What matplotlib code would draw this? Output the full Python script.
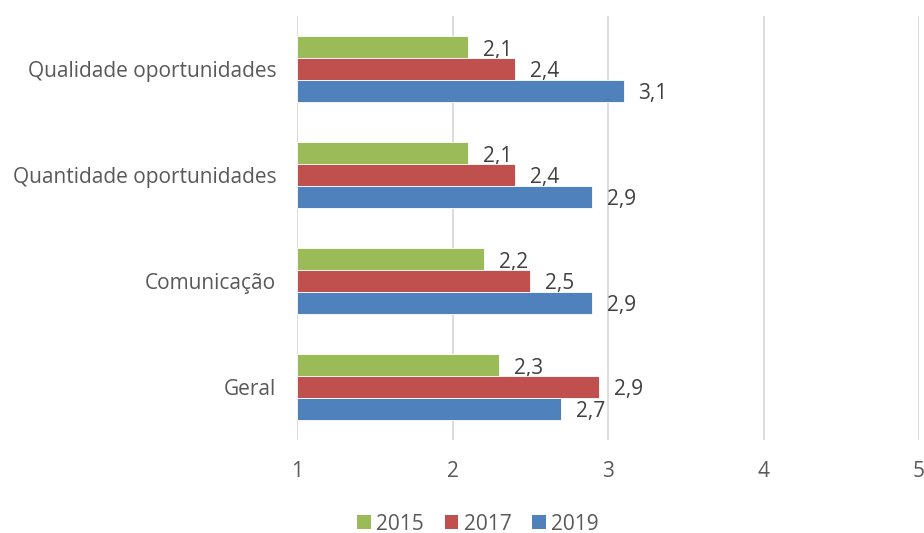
import numpy as np
import matplotlib.pyplot as plt
from matplotlib.patches import Patch

plt.rcParams['font.family'] = ['Open Sans', 'DejaVu Sans']

categories = ['Qualidade oportunidades', 'Quantidade oportunidades',
              'Comunicação', 'Geral']
years = ['2015', '2017', '2019']
v2015 = [2.1, 2.1, 2.2, 2.3]
v2017 = [2.4, 2.4, 2.5, 2.94]
v2019 = [3.1, 2.9, 2.9, 2.7]
colors = ['#9BBB59', '#C0504D', '#4F81BD']

series = [v2015, v2017, v2019]
text_col = '#595959'
fs = 15

fig = plt.figure(figsize=(9.24, 5.33), dpi=100)
ax = fig.add_axes([297 / 924, 1 - 440 / 533, 622 / 924, 424 / 533])

y = np.arange(len(categories))
h = 0.205
for k, (vals, col) in enumerate(zip(series, colors)):
    pos = y + (k - 1) * h
    ax.barh(pos, np.array(vals) - 1, left=1, height=h, color=col,
            edgecolor='white', linewidth=0.6, zorder=3)
    for p, v in zip(pos, vals):
        ax.annotate(f'{v:.1f}'.replace('.', ','), (v, p),
                    xytext=(15, -3), textcoords='offset pixels',
                    ha='left', va='center', fontsize=fs, color='#404040')

ax.set_xlim(1, 5)
ax.set_ylim(len(categories) - 0.5, -0.5)
ax.set_xticks([1, 2, 3, 4, 5])
ax.set_yticks(y)
ax.set_yticklabels(categories)
ax.grid(axis='x', color='#D9D9D9', linewidth=1.3, zorder=0)
for s in ax.spines.values():
    s.set_visible(False)
ax.tick_params(axis='both', length=0, labelsize=fs, colors=text_col)
ax.tick_params(axis='x', pad=15)
ax.tick_params(axis='y', pad=15)

handles = [Patch(facecolor=c, label=l) for c, l in zip(colors, years)]
fig.legend(handles=handles, loc='center', bbox_to_anchor=(478 / 924, 1 - 524 / 533),
           ncol=3, frameon=False, fontsize=fs, handlelength=0.65,
           handleheight=0.65, handletextpad=0.25, columnspacing=1.0,
           labelcolor=text_col)

fig.savefig('out.png', dpi=100)
